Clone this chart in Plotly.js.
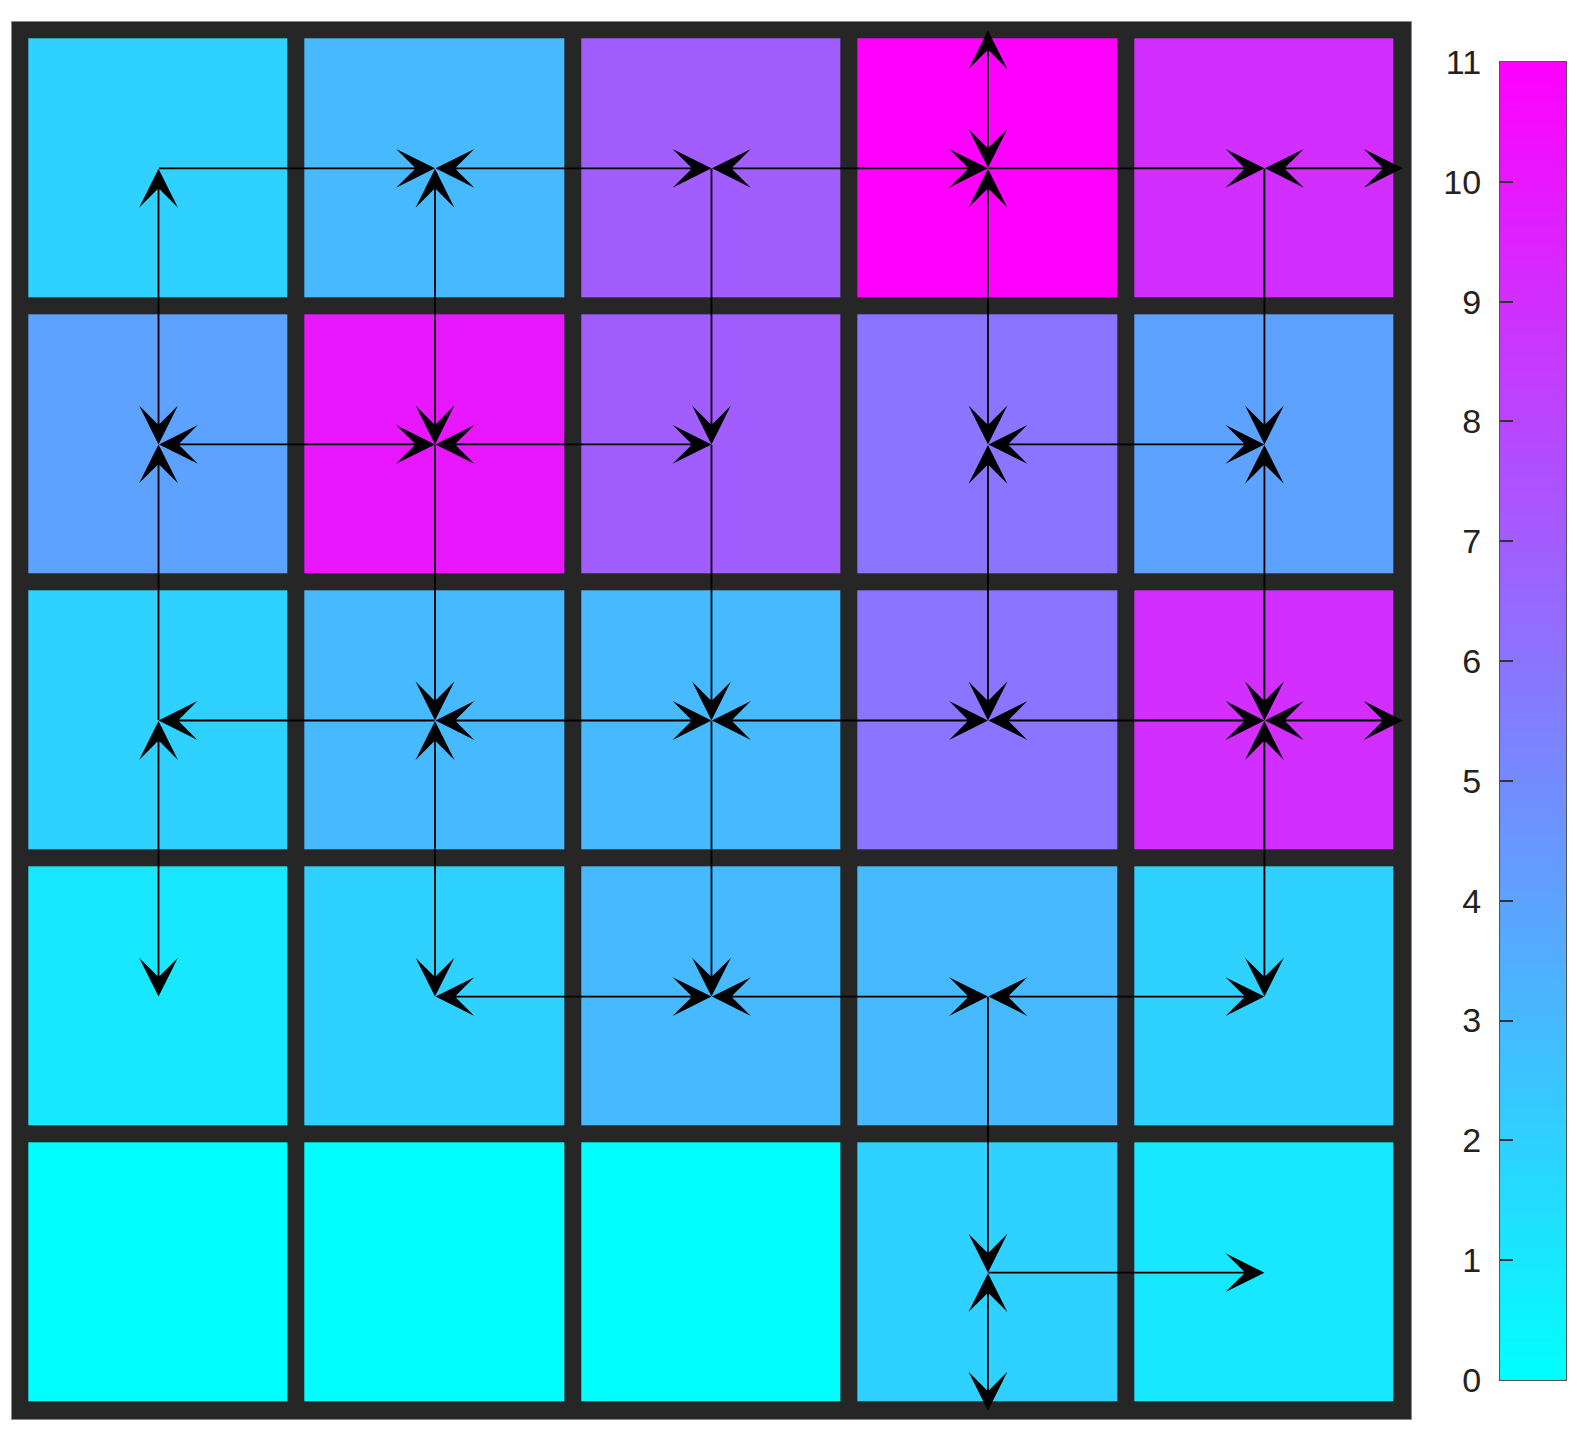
<!DOCTYPE html>
<html>
<head>
<meta charset="utf-8">
<script src="https://cdn.plot.ly/plotly-3.0.1.min.js"></script>
<style>
  html, body { margin: 0; padding: 0; background: #fff; }
  #grafico { width: 1577px; height: 1433px; }
</style>
</head>
<body>
<div id="grafico"></div>
<script>
// Valores de cada célula (linha 0 = topo)
const rows = [0, 1, 2, 3, 4];
const cols = [0, 1, 2, 3, 4];
const cellValues = [
    [2, 3, 7, 11, 9],
    [4, 10, 7, 6, 4],
    [2, 3, 3, 6, 9],
    [1, 2, 3, 3, 2],
    [0, 0, 0, 2, 1]
];
const colorbarTicks = [0, 1, 2, 3, 4, 5, 6, 7, 8, 9, 10, 11];

// Setas entre células: [linhaOrigem, colOrigem, linhaDestino, colDestino]
const oneWayArrows = [
    [0, 0, 0, 1], [0, 3, 0, 4], [2, 1, 2, 0], [4, 3, 4, 4],
    [2, 0, 1, 0], [1, 1, 2, 1], [0, 2, 1, 2], [1, 2, 2, 2],
    [2, 2, 3, 2], [3, 3, 4, 3], [0, 4, 1, 4]
];
const twoWayArrows = [
    [0, 1, 0, 2], [0, 2, 0, 3], [1, 0, 1, 1], [1, 1, 1, 2],
    [1, 3, 1, 4], [2, 1, 2, 2], [2, 2, 2, 3], [2, 3, 2, 4],
    [3, 1, 3, 2], [3, 2, 3, 3], [3, 3, 3, 4],
    [0, 0, 1, 0], [2, 0, 3, 0], [0, 1, 1, 1], [2, 1, 3, 1],
    [0, 3, 1, 3], [1, 3, 2, 3], [1, 4, 2, 4], [2, 4, 3, 4]
];
// Setas duplas que saem da grade: [linha, coluna, direção]
const exitArrows = [[0, 3, 'up'], [0, 4, 'right'], [2, 4, 'right'], [4, 3, 'down']];

const coolScale = [[0, 'rgb(0,255,255)'], [1, 'rgb(255,0,255)']];
const halfStep = { up: [-0.5, 0], down: [0.5, 0], left: [0, -0.5], right: [0, 0.5] };

function arrow(r0, c0, r1, c1, both) {
    return {
        xref: 'x', yref: 'y', axref: 'x', ayref: 'y',
        x: c1, y: r1, ax: c0, ay: r0,
        text: '', showarrow: true,
        arrowhead: 3, arrowsize: 3.6, arrowwidth: 1.8, arrowcolor: '#000',
        startarrowhead: 3, startarrowsize: 3.6,
        arrowside: both ? 'end+start' : 'end',
        standoff: 0, startstandoff: 0,
        borderpad: 0, font: { size: 1 }
    };
}

const annotations = [];
oneWayArrows.forEach(a => annotations.push(arrow(a[0], a[1], a[2], a[3], false)));
twoWayArrows.forEach(a => annotations.push(arrow(a[0], a[1], a[2], a[3], true)));
exitArrows.forEach(a => {
    const d = halfStep[a[2]];
    annotations.push(arrow(a[0], a[1], a[0] + d[0], a[1] + d[1], true));
});

const data = [
    {
        type: 'heatmap',
        x: cols, y: rows, z: cellValues,
        colorscale: coolScale, zmin: 0, zmax: 11,
        xgap: 17, ygap: 17,
        showscale: false, hoverinfo: 'skip'
    },
    {
        // barra de cores desenhada como heatmap suavizado
        type: 'heatmap',
        x: [0, 1], y: colorbarTicks,
        z: colorbarTicks.map(v => [v, v]),
        colorscale: coolScale, zmin: 0, zmax: 11,
        zsmooth: 'best', showscale: false, hoverinfo: 'skip',
        xaxis: 'x2', yaxis: 'y2'
    }
];

const layout = {
    width: 1577, height: 1433,
    margin: { l: 12, r: 8, t: 22, b: 14 },
    paper_bgcolor: '#ffffff',
    plot_bgcolor: '#262626',
    showlegend: false,
    xaxis: {
        domain: [0, 0.8985], range: [-0.53, 4.53],
        showgrid: false, zeroline: false, showticklabels: false, ticks: '',
        showline: true, mirror: true, linecolor: '#8a8a8a', linewidth: 1
    },
    yaxis: {
        domain: [0, 1], range: [4.53, -0.53],
        showgrid: false, zeroline: false, showticklabels: false, ticks: '',
        showline: true, mirror: true, linecolor: '#8a8a8a', linewidth: 1
    },
    xaxis2: {
        domain: [0.9557, 0.9981], range: [0, 1], anchor: 'y2',
        showgrid: false, zeroline: false, showticklabels: false, ticks: '',
        showline: true, mirror: true, linecolor: '#555', linewidth: 1.2
    },
    yaxis2: {
        domain: [0.0279, 0.9714], range: [0, 11], anchor: 'x2', side: 'left',
        tickvals: colorbarTicks, ticktext: colorbarTicks.map(String),
        ticks: 'inside', ticklen: 13, tickwidth: 1.5, tickcolor: '#333',
        ticklabelstandoff: 11,
        tickfont: { family: 'Liberation Sans, Arial, sans-serif', size: 34, color: '#222' },
        showgrid: false, zeroline: false,
        showline: true, mirror: true, linecolor: '#555', linewidth: 1.2
    },
    annotations: annotations
};

Plotly.newPlot('grafico', data, layout, { displayModeBar: false });
</script>
</body>
</html>
